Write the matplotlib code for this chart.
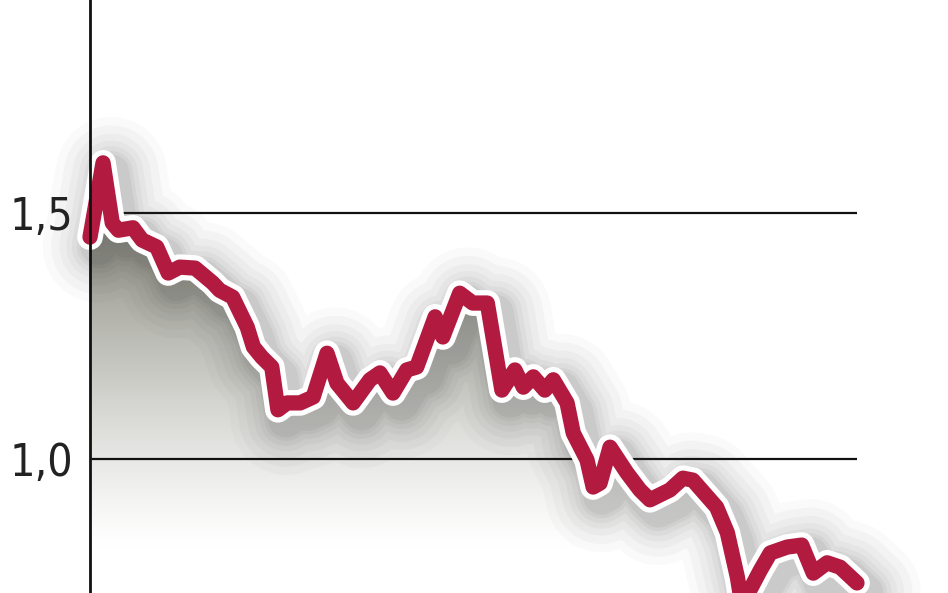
import numpy as np
import matplotlib
matplotlib.use("Agg")
import matplotlib.pyplot as plt
import matplotlib.patheffects as pe
from matplotlib.colors import to_rgb

# ---- data ----
t = [0, 1.7, 2.9, 3.7, 5.6, 6.8, 8.7, 10.2, 11.7, 13.7,
     16.0, 16.9, 18.6, 20.5, 21.3, 22.4, 23.7, 24.5, 25.7, 27.4,
     29.1, 30.9, 32.2, 34.3, 36.5, 37.8, 39.5, 41.3, 42.6, 45.0,
     46.0, 48.2, 49.9, 51.8, 53.7, 55.4, 56.5, 57.8, 59.3, 60.4,
     62.2, 63.0, 64.8, 65.6, 66.5, 67.8, 70.0, 71.7, 73.0, 75.6,
     77.3, 78.6, 81.7, 83.1, 84.4, 85.0, 87.4, 88.7, 90.9, 92.8,
     94.3, 96.1, 97.8, 100]
values = [1.451, 1.602, 1.480, 1.465, 1.470, 1.445, 1.431, 1.378, 1.390, 1.388,
          1.358, 1.343, 1.329, 1.268, 1.228, 1.207, 1.187, 1.100, 1.114, 1.114,
          1.126, 1.215, 1.154, 1.114, 1.161, 1.175, 1.134, 1.181, 1.187, 1.289,
          1.248, 1.337, 1.317, 1.317, 1.140, 1.181, 1.146, 1.167, 1.140, 1.161,
          1.114, 1.053, 0.998, 0.943, 0.951, 1.024, 0.972, 0.937, 0.917, 0.937,
          0.961, 0.957, 0.902, 0.850, 0.760, 0.703, 0.774, 0.809, 0.821, 0.825,
          0.768, 0.789, 0.780, 0.748]
yticks = [1.0, 1.5]
yticklabels = ["1,0", "1,5"]

W, H = 948, 593
fig = plt.figure(figsize=(W / 100, H / 100), dpi=100)
ax = fig.add_axes([90 / W, 0, (857 - 90) / W, 1])
ymin, ymax = 0.7276, 1.933
ax.set_xlim(0, 100)
ax.set_ylim(ymin, ymax)

# gradient fill under the line
dark = np.array(to_rgb("#94948a"))
white = np.array([1.0, 1.0, 1.0])
yy = np.linspace(ymax, ymin, 400)
frac = np.clip((yy - 0.82) / (1.45 - 0.82), 0, 1) ** 1.2
img = (white[None, :] * (1 - frac[:, None]) + dark[None, :] * frac[:, None])
img = np.repeat(img[:, None, :], 2, axis=1)
im = ax.imshow(img, extent=[0, 100, ymin, ymax], aspect="auto", zorder=1,
               interpolation="bilinear")
poly = ax.fill_between(t, values, ymin - 0.2, color="none", lw=0)
clip = poly.get_paths()[0]
im.set_clip_path(clip, transform=ax.transData)

# gridlines
for v in yticks:
    ax.axhline(v, color="#111111", lw=1.6, zorder=2)

# line with soft shadow and white outline
effects = []
for lw, a in [(80, 0.025), (68, 0.03), (56, 0.035), (46, 0.04), (38, 0.045),
              (31, 0.05), (26, 0.06)]:
    effects.append(pe.SimpleLineShadow(offset=(6, -7), shadow_color="#3a3a3a",
                                       alpha=a, rho=1.0, linewidth=lw))
effects += [pe.Stroke(linewidth=18.5, foreground="white"), pe.Normal()]
ax.plot(t, values, color="#b21a40", lw=11, solid_joinstyle="round",
        solid_capstyle="round", zorder=3, clip_on=False, path_effects=effects)

# axes styling
for s in ["top", "right", "bottom"]:
    ax.spines[s].set_visible(False)
ax.spines["left"].set_linewidth(2)
ax.spines["left"].set_color("#111111")
ax.spines["left"].set_zorder(4)
ax.set_xticks([])
ax.set_yticks(yticks)
ax.set_yticklabels(yticklabels, fontfamily="DejaVu Sans", fontstretch="condensed",
                   fontweight="light", fontsize=32, color="#222222")
ax.tick_params(axis="y", length=0, pad=12)
ax.patch.set_alpha(0)

fig.savefig("out.png", dpi=100)
